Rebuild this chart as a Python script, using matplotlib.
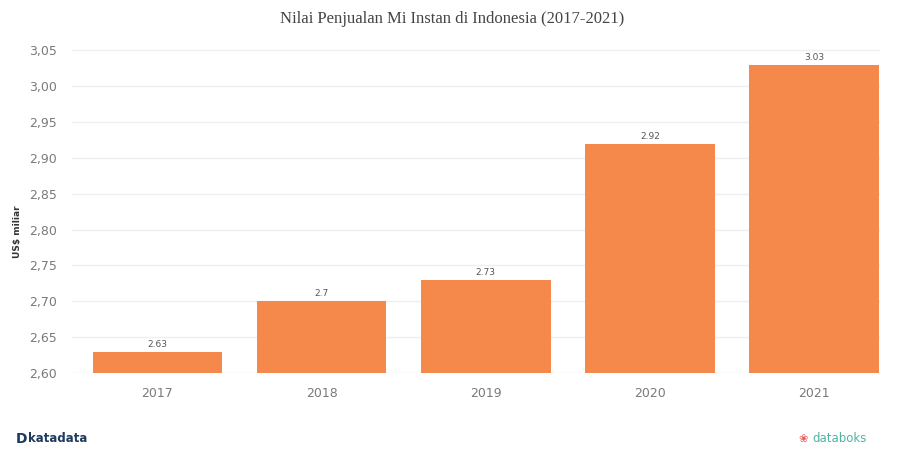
import matplotlib
matplotlib.use("Agg")
import matplotlib.pyplot as plt
from matplotlib.ticker import FuncFormatter

# data
years = ["2017", "2018", "2019", "2020", "2021"]
sales = [2.63, 2.70, 2.73, 2.92, 3.03]
bar_labels = ["2.63", "2.7", "2.73", "2.92", "3.03"]
yticks = [2.60, 2.65, 2.70, 2.75, 2.80, 2.85, 2.90, 2.95, 3.00, 3.05]

BAR_COLOR = "#F5894B"
TEXT_GRAY = "#7a7a7a"

fig = plt.figure(figsize=(9.05, 4.5), dpi=100)
ax = fig.add_axes([0.0796, 0.171, 0.8924, 0.733])

x = list(range(len(years)))
bars = ax.bar(x, [v - 2.6 for v in sales], bottom=2.6, width=0.79,
              color=BAR_COLOR, zorder=3)

for b, lab in zip(bars, bar_labels):
    ax.text(b.get_x() + b.get_width() / 2, b.get_y() + b.get_height() + 0.004, lab,
            ha="center", va="bottom", fontsize=6.5, color="#555555")

ax.set_xlim(-0.52, 4.4)
ax.set_ylim(2.6, 3.06)
ax.set_yticks(yticks)
ax.yaxis.set_major_formatter(FuncFormatter(lambda v, p: f"{v:.2f}".replace(".", ",")))
ax.set_xticks(x)
ax.set_xticklabels(years)

ax.grid(axis="y", color="#efefef", linewidth=1, zorder=0)
for s in ax.spines.values():
    s.set_visible(False)
ax.tick_params(axis="both", length=0, colors=TEXT_GRAY, labelsize=9)
ax.tick_params(axis="y", pad=11)
ax.tick_params(axis="x", pad=10)

ax.set_ylabel("US$ miliar", fontsize=6.5, fontweight="bold", color="#333333", labelpad=4)
ax.yaxis.set_label_coords(-0.062, 0.43)

fig.text(0.5, 0.957, "Nilai Penjualan Mi Instan di Indonesia (2017-2021)",
         ha="center", va="center", fontsize=12, family="Liberation Serif", color="#444444")

fig.text(0.017, 0.025, "D", ha="left", va="center", fontsize=10, fontweight="bold", color="#1f3a5f")
fig.text(0.031, 0.025, "katadata", ha="left", va="center", fontsize=8.5, fontweight="bold",
         color="#1f3a5f")
fig.text(0.882, 0.025, "\u2740", ha="left", va="center", fontsize=8, color="#e8605a")
fig.text(0.898, 0.025, "databoks", ha="left", va="center", fontsize=8.5, color="#4fb3a0")

fig.savefig("out.png", dpi=100, facecolor="white")
